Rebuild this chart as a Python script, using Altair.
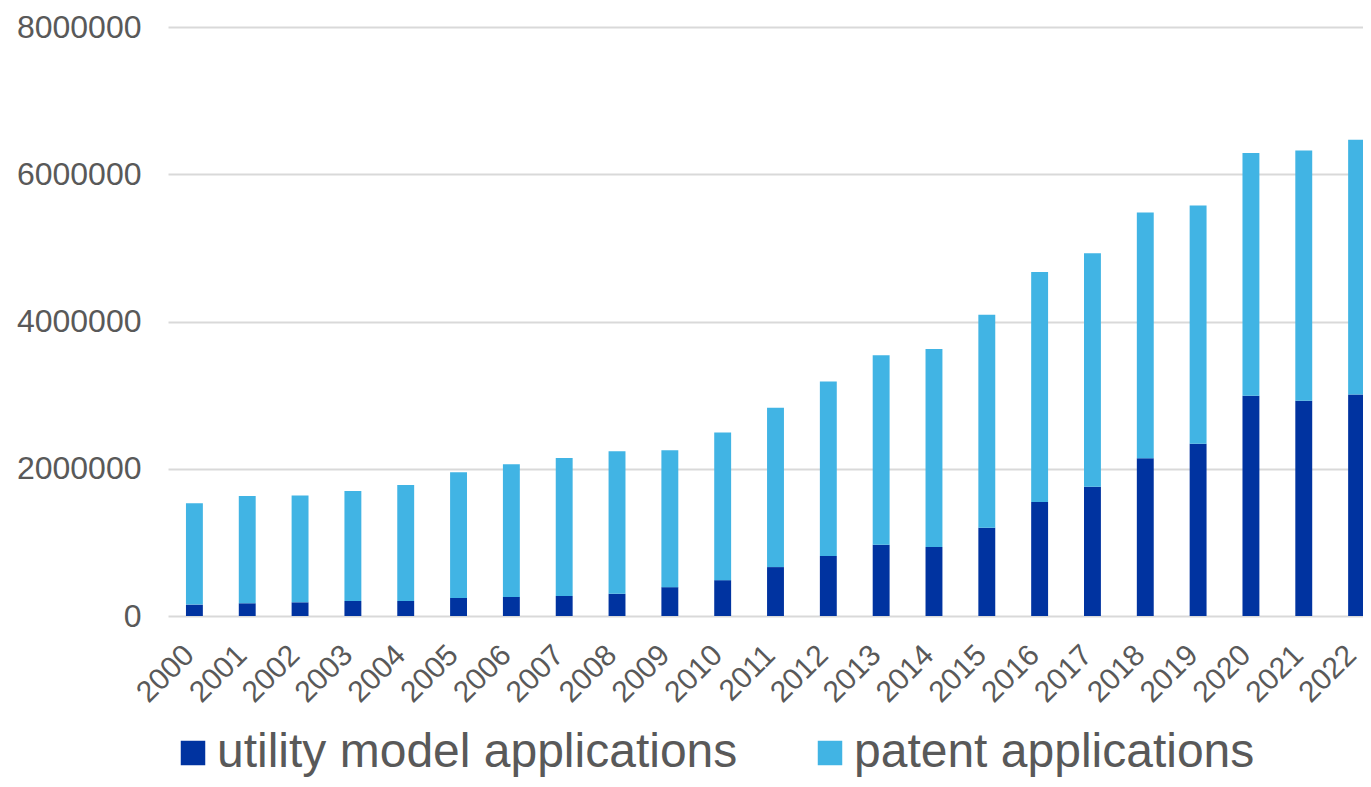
import altair as alt
import pandas as pd

years = [str(y) for y in range(2000, 2023)]
utility = [155000, 173000, 186000, 204000, 204000, 245000, 259000, 272000, 302000, 392000,
           487000, 664000, 814000, 969000, 936000, 1200000, 1549000, 1757000, 2143000,
           2341000, 2993000, 2925000, 3007000]
patent = [1378000, 1456000, 1452000, 1493000, 1574000, 1706000, 1801000, 1874000, 1936000,
          1860000, 2006000, 2163000, 2372000, 2571000, 2690000, 2890000, 3125000, 3171000,
          3337000, 3234000, 3294000, 3397000, 3460000]
series = ["utility model applications", "patent applications"]
colors = ["#0033A0", "#41B4E4"]
y_ticks = [0, 2000000, 4000000, 6000000, 8000000]

rows = []
for i, yr in enumerate(years):
    rows.append({"year": yr, "series": series[0], "value": utility[i], "ord": 0})
    rows.append({"year": yr, "series": series[1], "value": patent[i], "ord": 1})
df = pd.DataFrame(rows)

FONT = "Liberation Sans"
GREY = "#595959"

chart = alt.Chart(df).mark_bar().encode(
    x=alt.X("year:N", sort=years, title=None,
            scale=alt.Scale(paddingInner=0.68, paddingOuter=0.34, range=[0, 1215]),
            axis=alt.Axis(labelAngle=-45, labelAlign="right", labelBaseline="middle",
                          labelFontSize=30, labelColor=GREY, labelFont=FONT,
                          domain=False, ticks=False, labelPadding=34, labelOffset=-5)),
    y=alt.Y("value:Q", stack="zero", title=None,
            scale=alt.Scale(domain=[0, 8000000], nice=False),
            axis=alt.Axis(values=y_ticks, format="d", labelFontSize=32, labelColor=GREY,
                          labelFont=FONT, domain=False, ticks=False, tickSize=0, labelPadding=27,
                          grid=True, gridColor="#D9D9D9", gridWidth=2)),
    color=alt.Color("series:N", title=None,
                    scale=alt.Scale(domain=series, range=colors),
                    legend=alt.Legend(orient="none", legendX=1, legendY=702, direction="horizontal",
                                      labelFontSize=48, labelColor=GREY, labelFont=FONT,
                                      labelLimit=1000, symbolType="square", symbolSize=600,
                                      symbolStrokeWidth=0, labelOffset=0, columnPadding=68,
                                      padding=0)),
    order=alt.Order("ord:Q", sort="ascending"),
).properties(
    width=1195, height=589,
    autosize=alt.AutoSizeParams(type="none"),
    padding={"left": 160, "top": 19, "right": 0, "bottom": 163},
).configure(background="white").configure_view(stroke=None)

chart.save("out.html", embed_options={"renderer": "svg", "actions": False})
